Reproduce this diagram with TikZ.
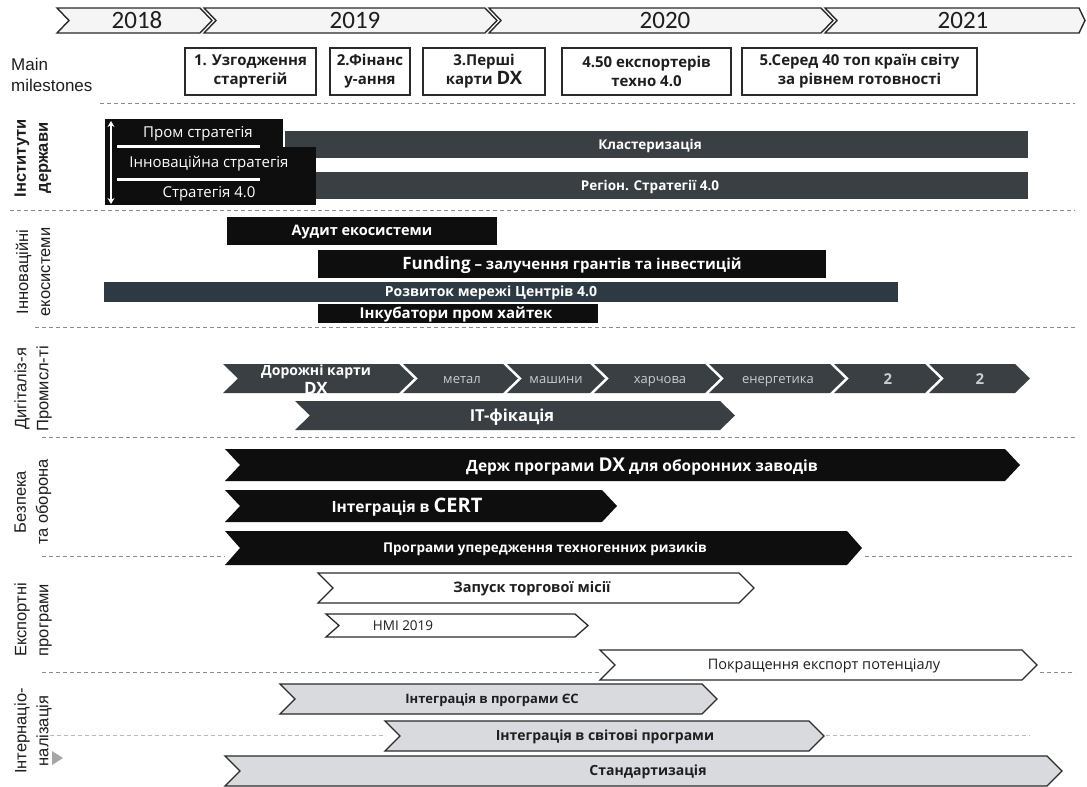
\documentclass[tikz,border=0pt]{standalone}
\usepackage{fontspec}
\setmainfont{Open Sans}
\newfontfamily\carl{Carlito}
\newfontfamily\arialf{Liberation Sans}
\usetikzlibrary{arrows.meta}
\definecolor{barblack}{HTML}{0E0E0E}
\definecolor{bardark}{HTML}{3A3F44}
\definecolor{barslate}{HTML}{2E3A43}
\definecolor{barlight}{HTML}{D8DADD}
\definecolor{edge}{HTML}{2A2A2A}
\definecolor{dashc}{HTML}{8A8A8A}
\definecolor{txt}{HTML}{1E1E1E}
\definecolor{chevtxt}{HTML}{C9CDD0}
\newcommand\chev[7]{\path[#1] (#2,#4) -- ({#3-#7},#4) -- (#3,{(#4+#5)/2}) -- ({#3-#7},#5) -- (#2,#5) -- ({#2+#6},{(#4+#5)/2}) -- cycle;}
\newcommand\fs[1]{\fontsize{#1}{#1}\selectfont}
\tikzset{
 sep/.style={draw=dashc, line width=0.9pt, dash pattern=on 4pt off 3pt},
 lsep/.style={draw=dashc!60, line width=0.8pt, dash pattern=on 4pt off 3pt},
 blk/.style={fill=barblack},
 drk/.style={fill=bardark},
 wht/.style={fill=white, draw=edge, line width=1.3pt, line join=miter},
 lgt/.style={fill=barlight, draw=edge, line width=1.3pt, line join=miter},
 yr/.style={fill=black!4, draw=edge, line width=1.4pt, line join=miter},
 ms/.style={draw=edge, line width=1.4pt, fill=white, minimum height=47pt, align=center, font=\fontsize{15}{19}\selectfont\bfseries, text=txt, inner sep=2pt},
 th/.style={text height=#1pt},
 lbl/.style={inner sep=0pt, text depth=0pt},
 wt/.style={lbl, th=9.9, text=white, font=\fs{14.5}\bfseries},
 wn/.style={lbl, th=10.2, text=white, font=\fs{15}},
 ct/.style={lbl, th=8.8, text=chevtxt, font=\fs{13}},
 bt/.style={lbl, th=9.5, text=txt, font=\fs{14}\bfseries},
 nt/.style={lbl, th=9.2, text=txt, font=\fs{13.5}},
 side/.style={rotate=90, font=\arialf\fontsize{16.5}{22}\selectfont, text=txt, align=center, inner sep=0pt},
 yrt/.style={lbl, th=15.8, font=\carl\fs{25}, text=txt},
}
\begin{document}
\begin{tikzpicture}[x=1pt,y=-1pt]
\useasboundingbox (0,0) rectangle (1087,787);
\fill[white] (0,0) rectangle (1087,787);
% ---------- years ----------
\chev{yr}{57}{212}{8}{33}{12}{12}
\chev{yr}{204}{497}{8}{33}{12}{12}
\chev{yr}{489}{833}{8}{33}{12}{12}
\chev{yr}{825}{1085}{8}{33}{12}{6}
\node[yrt] (y18) at (137,21) {2018};
\node[yrt] (y19) at (355,21) {2019};
\node[yrt] (y20) at (665,21) {2020};
\node[yrt] (y21) at (963,21) {2021};
% ---------- milestones ----------
\node[font=\arialf\fontsize{17}{21}\selectfont, text=txt, align=left, anchor=west, inner sep=0pt] (mm) at (11,75) {Main\\milestones};
\node[ms, minimum width=131pt] (m1) at (250.5,71.5) {1. Узгодження\\стартегій};
\node[ms, minimum width=80pt] (m2) at (370,71.5) {2.Фінанс\\у-ання};
\node[ms, minimum width=122pt] (m3) at (484,71.5) {3.Перші\\карти {\fs{18.5}DX}};
\node[ms, minimum width=169pt] (m4) at (646.5,71.5) {4.50 експортерів\\техно 4.0};
\node[ms, minimum width=235pt] (m5) at (859.5,71.5) {5.Серед 40 топ країн світу\\за рівнем готовності};
% ---------- separators ----------
\draw[sep] (100,103) -- (1075,103);
\draw[sep] (10,210) -- (1075,210);
\draw[sep] (35,327) -- (1075,327);
\draw[sep] (42,437) -- (1075,437);
\draw[sep] (42,556) -- (225,556);
\draw[sep] (865,556) -- (1075,556);
\draw[sep] (42,672) -- (600,672);
\draw[sep] (1040,672) -- (1075,672);
\draw[lsep] (50,735) -- (385,735);
\draw[lsep] (826,735) -- (1030,735);
% ---------- side labels ----------
\node[side] (s1) at (33,158) {\bfseries Інститути\\\bfseries держави};
\node[side] (s2) at (33,272) {Інноваційні\\екосистеми};
\node[side] (s3) at (33,389) {Дигіталіз-я\\Промисл-ті};
\node[side] (s4) at (33,502) {Безпека\\та оборона};
\node[side] (s5) at (33,620) {Експортні\\програми};
\node[side] (s6) at (33,731) {Інтернаціо-\\налізація};
\fill[black!35] (52,751) -- (63,758) -- (52,765) -- cycle;
% ---------- section 1 ----------
\fill[bardark] (285,131) rectangle (1028,158);
\fill[bardark] (300,172) rectangle (1028,199);
\fill[barblack] (105,119) rectangle (283,147);
\fill[barblack] (105,147) rectangle (316,178);
\fill[barblack] (105,178) rectangle (316,205);
\draw[white, line width=3pt] (117,146) -- (260,146);
\draw[white, line width=3pt] (117,179) -- (260,179);
\coordinate (atop) at (111,121);
\coordinate (abot) at (111,204);
\draw[white, line width=2.4pt, {Stealth[length=6pt,width=7pt]}-{Stealth[length=6pt,width=7pt]}] (atop) -- (abot);
\node[wn] (t11) at (198,132.5) {Пром стратегія};
\node[wn] (t12) at (209,162.5) {Інноваційна стратегія};
\node[wn] (t13) at (209,192.5) {Стратегія 4.0};
\node[wt, th=9.2, font=\fs{13.5}\bfseries] (t14) at (650,144.5) {Кластеризація};
\node[wt, th=9.2, font=\fs{13.5}\bfseries] (t15) at (650,185.5) {Регіон. Стратегії 4.0};
% ---------- section 2 ----------
\fill[barblack] (227,217) rectangle (497,245);
\fill[barblack] (318,250) rectangle (826,278);
\fill[barslate] (104,282) rectangle (898,302);
\fill[barblack] (318,304) rectangle (598,323);
\node[wt] (t21) at (362,231) {Аудит екосистеми};
\node[wt, th=11.2, font=\fs{15}\bfseries] (t22) at (572,264) {{\fs{17}Funding} – залучення грантів та інвестицій};
\node[wt, th=9.5, font=\fs{14}\bfseries] (t23) at (491,292) {Розвиток мережі Центрів 4.0};
\node[wt, th=10.2, font=\fs{15}\bfseries] (t24) at (456,313.5) {Інкубатори пром хайтек};
% ---------- section 3 ----------
\chev{drk}{223}{414}{364}{393}{15}{15}
\chev{drk}{403}{518}{364}{393}{15}{15}
\chev{drk}{507}{605}{364}{393}{15}{15}
\chev{drk}{594}{720}{364}{393}{15}{15}
\chev{drk}{709}{845}{364}{393}{15}{15}
\chev{drk}{834}{940}{364}{393}{15}{15}
\chev{drk}{929}{1030}{364}{393}{15}{15}
\chev{drk}{295}{735}{401}{430}{15}{15}
\node[wt, th=9.5, font=\fs{14}\bfseries] (t31) at (316,371) {Дорожні карти};
\begin{scope}
\clip (223,364) rectangle (414,393);
\node[wt, th=11.6, font=\fs{17}\bfseries] (t32) at (316,388.5) {DX};
\end{scope}
\node[ct] (t33) at (462,379) {метал};
\node[ct] (t34) at (556,379) {машини};
\node[ct] (t35) at (660,379) {харчова};
\node[ct, th=10.7, font=\fs{15}\bfseries] (t37) at (888,379) {2};
\node[ct, th=10.7, font=\fs{15}\bfseries] (t38) at (980,379) {2};
\node[ct] (t36) at (778,379) {енергетика};
\node[wt, th=11.2, font=\fs{16.5}\bfseries] (t39) at (512,416) {IT-фікація};
% ---------- section 4 ----------
\chev{blk}{225}{1020}{449}{481}{15}{15}
\chev{blk}{225}{617}{490}{522}{15}{15}
\chev{blk}{225}{862}{531}{565}{15}{15}
\node[wt, th=12, font=\fs{15.5}\bfseries] (t41) at (642,465) {Держ програми {\fs{19}DX} для оборонних заводів};
\node[wt, th=12.5, font=\fs{15.5}\bfseries] (t42) at (407,506) {Інтеграція в {\fs{20}CERT}};
\node[wt, th=9.2, font=\fs{13.5}\bfseries] (t43) at (545,548) {Програми упередження техногенних ризиків};
% ---------- section 5 ----------
\chev{wht}{318}{754}{573}{603}{15}{15}
\chev{wht}{326}{588}{614}{637}{13}{13}
\chev{wht}{600}{1037}{650}{680}{15}{15}
\node[bt, th=9.9, font=\fs{14.5}\bfseries] (t51) at (532,588) {Запуск торгової місії};
\node[nt] (t52) at (403,625.5) {НМІ 2019};
\node[nt, th=9.9, font=\fs{14.5}] (t53) at (824,665) {Покращення експорт потенціалу};
% ---------- section 6 ----------
\chev{lgt}{280}{717}{684}{714}{15}{15}
\chev{lgt}{385}{824}{721}{751}{15}{15}
\chev{lgt}{225}{1062}{756}{786}{15}{15}
\node[bt, th=8.8, font=\fs{13}\bfseries] (t61) at (492,699) {Інтеграція в програми ЄС};
\node[bt] (t62) at (605,736) {Інтеграція в світові програми};
\node[bt] (t63) at (648,771) {Стандартизація};
\end{tikzpicture}
\end{document}
